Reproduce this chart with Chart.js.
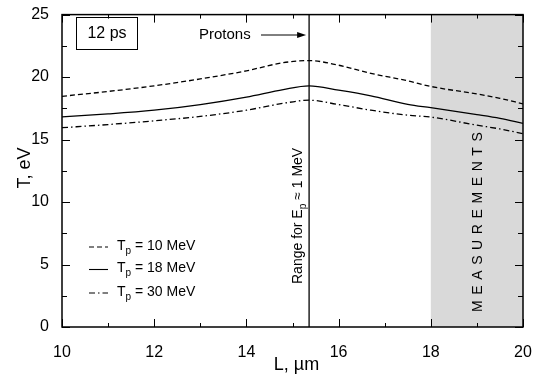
<!DOCTYPE html>
<html>
<head>
<meta charset="utf-8">
<script src="https://cdn.jsdelivr.net/npm/chart.js@4.4.1/dist/chart.umd.min.js"></script>
<style>
  html, body { margin: 0; padding: 0; background: #fff; }
</style>
</head>
<body>
<canvas id="chart" width="547" height="377"></canvas>
<script>
// Electron temperature vs target thickness L
const lengths = [10, 11, 12, 13, 14, 14.8, 15.36, 16, 16.7, 17.5, 18, 19, 19.5, 20];
const temp10MeV = [18.46, 18.85, 19.3, 19.85, 20.5, 21.15, 21.32, 20.95, 20.3, 19.7, 19.25, 18.65, 18.3, 17.86];
const temp18MeV = [16.82, 17.05, 17.35, 17.8, 18.4, 19.0, 19.29, 18.95, 18.5, 17.82, 17.55, 17.0, 16.7, 16.3];
const temp30MeV = [15.95, 16.2, 16.5, 16.85, 17.35, 17.9, 18.15, 17.8, 17.35, 16.95, 16.8, 16.15, 15.85, 15.47];
const seriesLabels = ['10 MeV', '18 MeV', '30 MeV'];
const dashes = [[5, 3], [], [6, 3, 1.5, 3]];

const xTicks = [10, 12, 14, 16, 18, 20];
const yTicks = [0, 5, 10, 15, 20, 25];
const rangeL = 15.36;            // proton range for Ep ~ 1 MeV
const measureFrom = 18, measureTo = 20;

const FONT = '"Liberation Sans", Arial, Helvetica, sans-serif';

function toPoints(ys) {
  return lengths.map((x, i) => ({ x: x, y: ys[i] }));
}

const datasets = [temp10MeV, temp18MeV, temp30MeV].map((ys, i) => ({
  label: seriesLabels[i],
  data: toPoints(ys),
  borderColor: '#000',
  borderWidth: 1.3,
  borderDash: dashes[i],
  pointRadius: 0,
  fill: false,
  cubicInterpolationMode: 'monotone'
}));

function sub(ctx, x, y, main, s, rest, size) {
  ctx.font = size + 'px ' + FONT;
  ctx.fillText(main, x, y);
  x += ctx.measureText(main).width;
  ctx.font = Math.round(size * 0.72) + 'px ' + FONT;
  ctx.fillText(s, x, y + size * 0.35);
  x += ctx.measureText(s).width;
  ctx.font = size + 'px ' + FONT;
  ctx.fillText(rest, x, y);
}

const decor = {
  id: 'decor',
  beforeDatasetsDraw(chart) {
    const { ctx, chartArea: a, scales: { x } } = chart;
    ctx.save();
    ctx.fillStyle = '#d9d9d9';
    ctx.fillRect(x.getPixelForValue(measureFrom), a.top,
      x.getPixelForValue(measureTo) - x.getPixelForValue(measureFrom), a.bottom - a.top);
    ctx.restore();
  },
  afterDatasetsDraw(chart) {
    const { ctx, chartArea: a, scales: { x, y } } = chart;
    ctx.save();
    ctx.strokeStyle = '#000';
    ctx.fillStyle = '#000';

    // range line
    const xr = x.getPixelForValue(rangeL);
    ctx.lineWidth = 1.3;
    ctx.beginPath();
    ctx.moveTo(xr, a.top);
    ctx.lineTo(xr, a.bottom);
    ctx.stroke();

    // frame
    ctx.lineWidth = 1.5;
    ctx.strokeRect(a.left, a.top, a.right - a.left, a.bottom - a.top);

    // inward ticks on all four sides
    ctx.lineWidth = 1;
    ctx.beginPath();
    for (let v = 10; v <= 20; v += 1) {
      const px = Math.round(x.getPixelForValue(v)) + 0.5;
      const len = v % 2 === 0 ? 8 : 4;
      ctx.moveTo(px, a.bottom); ctx.lineTo(px, a.bottom - len);
      ctx.moveTo(px, a.top); ctx.lineTo(px, a.top + len);
    }
    for (let v = 0; v <= 25; v += 2.5) {
      const py = Math.round(y.getPixelForValue(v)) + 0.5;
      const len = v % 5 === 0 ? 8 : 5;
      ctx.moveTo(a.left, py); ctx.lineTo(a.left + len, py);
      ctx.moveTo(a.right, py); ctx.lineTo(a.right - len, py);
    }
    ctx.stroke();

    // "12 ps" box
    ctx.lineWidth = 1;
    ctx.strokeRect(76.5, 17.5, 61, 32);
    ctx.font = '16px ' + FONT;
    ctx.textAlign = 'center';
    ctx.textBaseline = 'middle';
    ctx.fillText('12 ps', 107, 34);

    // Protons arrow
    ctx.font = '15px ' + FONT;
    ctx.textAlign = 'left';
    ctx.fillText('Protons', 199, 35);
    ctx.beginPath();
    ctx.moveTo(261, 35);
    ctx.lineTo(xr - 10, 35);
    ctx.stroke();
    ctx.beginPath();
    ctx.moveTo(xr - 3, 35);
    ctx.lineTo(xr - 12, 32);
    ctx.lineTo(xr - 12, 38);
    ctx.closePath();
    ctx.fill();

    // rotated label beside the range line
    ctx.save();
    ctx.translate(xr - 11, 284);
    ctx.rotate(-Math.PI / 2);
    ctx.textBaseline = 'middle';
    ctx.textAlign = 'left';
    sub(ctx, 0, 0, 'Range for E', 'p', ' \u2248 1 MeV', 14);
    ctx.restore();

    // MEASUREMENTS, spaced letters
    const word = 'MEASUREMENTS';
    ctx.save();
    ctx.translate((x.getPixelForValue(measureFrom) + x.getPixelForValue(measureTo)) / 2 + 1, 312);
    ctx.rotate(-Math.PI / 2);
    ctx.font = '14px ' + FONT;
    ctx.textBaseline = 'middle';
    ctx.textAlign = 'left';
    let pos = 0;
    for (const ch of word) {
      ctx.fillText(ch, pos, 0);
      pos += ctx.measureText(ch).width + 5.6;
    }
    ctx.restore();

    // legend
    const rows = [247, 269.5, 293];
    rows.forEach((ry, i) => {
      ctx.lineWidth = 1.1;
      ctx.setLineDash(dashes[i]);
      ctx.beginPath();
      ctx.moveTo(89, ry);
      ctx.lineTo(108, ry);
      ctx.stroke();
      ctx.setLineDash([]);
      ctx.textBaseline = 'middle';
      sub(ctx, 117, ry - 1, 'T', 'p', ' = ' + seriesLabels[i], 14);
    });

    // axis titles
    ctx.font = '18px ' + FONT;
    ctx.textAlign = 'center';
    ctx.textBaseline = 'middle';
    ctx.fillText('L, \u00b5m', (a.left + a.right) / 2 + 4, 365);
    ctx.save();
    ctx.translate(25, 168);
    ctx.rotate(-Math.PI / 2);
    ctx.fillText('T, eV', 0, 0);
    ctx.restore();

    ctx.restore();
  }
};

new Chart(document.getElementById('chart'), {
  type: 'line',
  data: { datasets: datasets },
  options: {
    responsive: false,
    animation: false,
    layout: { padding: { top: 6, right: 24, left: 0, bottom: 0 } },
    plugins: { legend: { display: false }, tooltip: { enabled: false } },
    scales: {
      x: {
        type: 'linear',
        min: 10, max: 20,
        afterBuildTicks: s => { s.ticks = xTicks.map(v => ({ value: v })); },
        afterFit: s => { s.height = 50; },
        ticks: { color: '#000', font: { size: 16, family: FONT }, padding: 8, maxRotation: 0 },
        grid: { display: false },
        border: { display: false }
      },
      y: {
        min: 0, max: 25,
        afterBuildTicks: s => { s.ticks = yTicks.map(v => ({ value: v })); },
        afterFit: s => { s.width = 62; },
        ticks: { color: '#000', font: { size: 16, family: FONT }, padding: 5 },
        grid: { display: false },
        border: { display: false }
      }
    }
  },
  plugins: [decor]
});
</script>
</body>
</html>
